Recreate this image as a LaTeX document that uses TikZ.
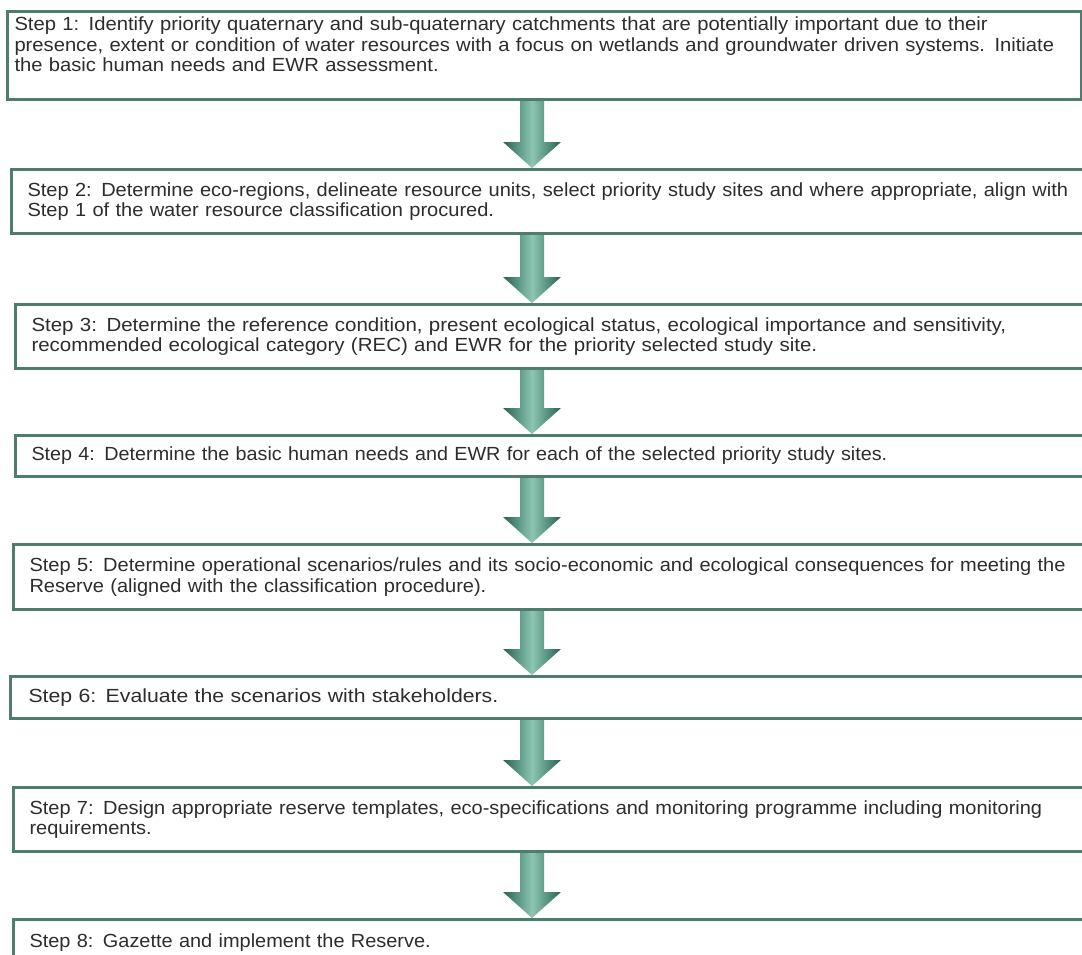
\documentclass[tikz,border=0pt]{standalone}
\usepackage{fontspec}
\setmainfont{Liberation Sans}
\usetikzlibrary{calc}

\definecolor{stepline}{RGB}{78,124,110}
\definecolor{arrowdark}{RGB}{40,98,84}
\definecolor{arrowlight}{RGB}{140,198,178}
\definecolor{steptext}{RGB}{45,45,45}

\newcommand\stepfont[1]{\fontspec{Liberation Sans}[FakeStretch=#1]\fontsize{19}{20.5}\selectfont}

\begin{document}
\begin{tikzpicture}[x=1pt, y=-1pt,
  stepbox/.style={draw=stepline, line width=3pt, fill=white, anchor=north west, align=left,
    text=steptext, font=\stepfont{#1}, inner xsep=16pt, minimum width=1100pt, text width=1068pt},
  stepbox/.default=1.1,
  flowarrow/.style={left color=arrowdark, right color=arrowdark, middle color=arrowlight,
    to path={($(\tikztostart)+(-12,0)$) -- ($(\tikztotarget)+(-12,-26)$) -- ($(\tikztotarget)+(-29,-26)$)
      -- (\tikztotarget) -- ($(\tikztotarget)+(29,-26)$) -- ($(\tikztotarget)+(12,-26)$)
      -- ($(\tikztostart)+(12,0)$) -- cycle}}]

\useasboundingbox (0,0) rectangle (1082,954);

\node[stepbox=1.063, inner xsep=7pt, minimum width=1074pt, text width=1060pt, minimum height=88pt, text depth=63pt] (s1) at (6,10)
  {Step 1: Identify priority quaternary and sub-quaternary catchments that are potentially important due to their\\
   presence, extent or condition of water resources with a focus on wetlands and groundwater driven systems. Initiate\\
   the basic human needs and EWR assessment.};
\node[stepbox=1.055, minimum height=64pt] (s2) at (10,168)
  {Step 2: Determine eco-regions, delineate resource units, select priority study sites and where appropriate, align with\\
   Step 1 of the water resource classification procured.};
\node[stepbox=1.078, minimum height=64pt] (s3) at (14,303)
  {Step 3: Determine the reference condition, present ecological status, ecological importance and sensitivity,\\
   recommended ecological category (REC) and EWR for the priority selected study site.};
\node[stepbox=1.04, minimum height=41pt] (s4) at (14,434)
  {Step 4: Determine the basic human needs and EWR for each of the selected priority study sites.};
\node[stepbox=1.054, minimum height=65pt] (s5) at (12,543)
  {Step 5: Determine operational scenarios/rules and its socio-economic and ecological consequences for meeting the\\
   Reserve (aligned with the classification procedure).};
\node[stepbox=1.118, inner xsep=18pt, text width=1064pt, minimum height=42pt] (s6) at (9,675)
  {Step 6: Evaluate the scenarios with stakeholders.};
\node[stepbox=1.052, minimum height=64pt] (s7) at (12,786)
  {Step 7: Design appropriate reserve templates, eco-specifications and monitoring programme including monitoring\\
   requirements.};
\node[stepbox=1.049, minimum height=46pt] (s8) at (12,918)
  {Step 8: Gazette and implement the Reserve.};

\coordinate (ax) at (532,0);

\path[flowarrow] (s1.south -| ax) to (s2.north -| ax);
\path[flowarrow] (s2.south -| ax) to (s3.north -| ax);
\path[flowarrow] (s3.south -| ax) to (s4.north -| ax);
\path[flowarrow] (s4.south -| ax) to (s5.north -| ax);
\path[flowarrow] (s5.south -| ax) to (s6.north -| ax);
\path[flowarrow] (s6.south -| ax) to (s7.north -| ax);
\path[flowarrow] (s7.south -| ax) to (s8.north -| ax);

\end{tikzpicture}
\end{document}
